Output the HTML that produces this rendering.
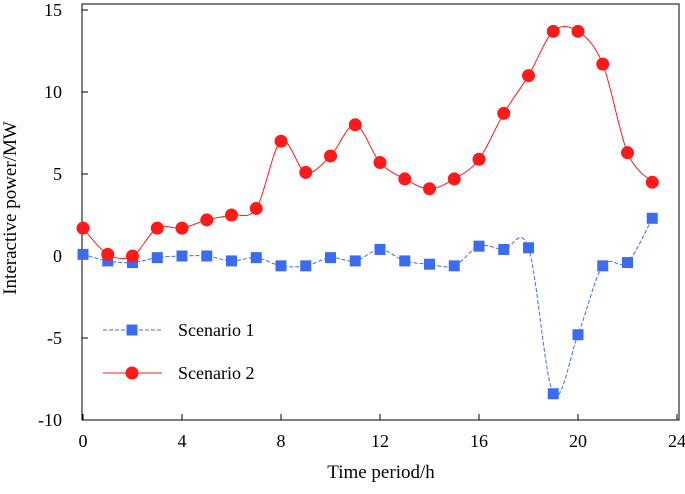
<!DOCTYPE html>
<html><head><meta charset="utf-8"><style>
body{margin:0;background:#fff;}
svg text{font-family:"Liberation Serif",serif;fill:#000;}
</style></head><body>
<svg id="chart" width="685" height="489" viewBox="0 0 685 489" xmlns="http://www.w3.org/2000/svg">
<rect x="82" y="4" width="597" height="416" fill="none" stroke="#000" stroke-width="1"/>
<g id="xt"></g><g id="yt"></g>
<text x="381" y="478" font-size="19" text-anchor="middle">Time period/h</text>
<text transform="translate(16,208) rotate(-90)" font-size="19" text-anchor="middle">Interactive power/MW</text>
<g id="series"></g>
<g>
<line x1="103" y1="330" x2="162" y2="330" stroke="#3b6cf0" stroke-width="1" stroke-dasharray="4,2"/>
<rect x="126.5" y="324.5" width="11" height="11" fill="#3b6cf0"/>
<text x="178" y="336" font-size="18">Scenario 1</text>
<line x1="103" y1="373" x2="162" y2="373" stroke="#ff1a1a" stroke-width="1"/>
<circle cx="132" cy="373" r="6.5" fill="#ff1a1a"/>
<text x="178" y="379" font-size="18">Scenario 2</text>
</g>
</svg>
<script>
const hours=[0,1,2,3,4,5,6,7,8,9,10,11,12,13,14,15,16,17,18,19,20,21,22,23];
const scenario1=[0.1,-0.3,-0.4,-0.1,0.0,0.0,-0.3,-0.1,-0.6,-0.6,-0.1,-0.3,0.4,-0.3,-0.5,-0.6,0.6,0.4,0.5,-8.4,-4.8,-0.6,-0.4,2.3];
const scenario2=[1.7,0.1,0.0,1.7,1.7,2.2,2.5,2.9,7.0,5.1,6.1,8.0,5.7,4.7,4.1,4.7,5.9,8.7,11.0,13.7,13.7,11.7,6.3,4.5];
const xTicks=[0,4,8,12,16,20,24];
const yTicks=[-10,-5,0,5,10,15];
const NS="http://www.w3.org/2000/svg";
function xs(v){return 83+24.75*v;}
function ys(v){return 256-16.4*v;}
function mk(tag,attrs,parent){const e=document.createElementNS(NS,tag);for(const k in attrs)e.setAttribute(k,attrs[k]);parent.appendChild(e);return e;}
const xt=document.getElementById('xt'),yt=document.getElementById('yt'),sg=document.getElementById('series');
xTicks.forEach(t=>{
  const l=mk('line',{x1:xs(t),x2:xs(t),y1:420,y2:414,stroke:'#000'},xt);
  
  
  const tx=mk('text',{x:xs(t),y:447,'font-size':18,'text-anchor':'middle'},xt);tx.textContent=t;
  
  
});
yTicks.forEach(t=>{
  const l=mk('line',{x1:82,x2:88,y1:ys(t),y2:ys(t),stroke:'#000'},yt);
  
  
  const tx=mk('text',{x:62,y:ys(t)+6,'font-size':18,'text-anchor':'end'},yt);tx.textContent=t;
  
  
});
function smooth(vals){
  const p=vals.map((v,i)=>[xs(hours[i]),ys(v)]);
  let d='M'+p[0][0]+','+p[0][1];
  for(let i=0;i<p.length-1;i++){
    const p0=p[Math.max(0,i-1)],p1=p[i],p2=p[i+1],p3=p[Math.min(p.length-1,i+2)];
    const c1=[p1[0]+(p2[0]-p0[0])/6,p1[1]+(p2[1]-p0[1])/6];
    const c2=[p2[0]-(p3[0]-p1[0])/6,p2[1]-(p3[1]-p1[1])/6];
    d+=' C'+c1+' '+c2+' '+p2;
  }
  return d;
}
const l1=mk('path',{d:smooth(scenario1),fill:'none',stroke:'#3b6cf0','stroke-width':1,'stroke-dasharray':'4,2'},sg);


const l2=mk('path',{d:smooth(scenario2),fill:'none',stroke:'#ff1a1a','stroke-width':1},sg);


scenario1.forEach((v,i)=>{
  const r=mk('rect',{x:xs(hours[i])-5.5,y:ys(v)-5.5,width:11,height:11,fill:'#3b6cf0'},sg);
  
  
});
scenario2.forEach((v,i)=>{
  const c=mk('circle',{cx:xs(hours[i]),cy:ys(v),r:6.5,fill:'#ff1a1a'},sg);
  
  
});
</script>
</body></html>
